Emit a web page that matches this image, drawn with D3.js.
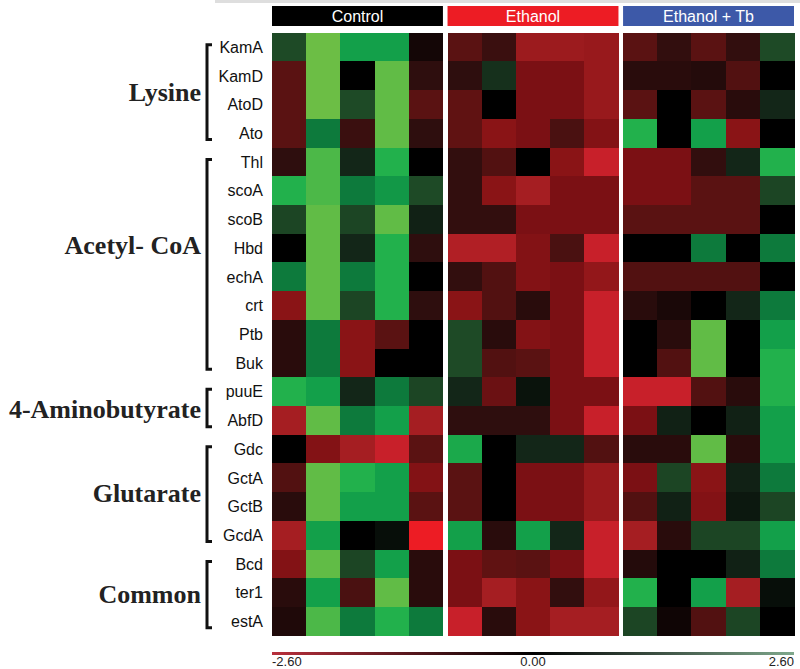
<!DOCTYPE html>
<html>
<head>
<meta charset="utf-8">
<script src="https://cdn.jsdelivr.net/npm/d3@7"></script>
<style>
  body { margin: 0; background: #fff; }
  svg { display: block; }
</style>
</head>
<body>
<svg id="chart" width="800" height="669"></svg>
<script>
// ---- data ----
const genes = ["KamA","KamD","AtoD","Ato","Thl","scoA","scoB","Hbd","echA","crt","Ptb","Buk",
               "puuE","AbfD","Gdc","GctA","GctB","GcdA","Bcd","ter1","estA"];
const pathways = ["Lysine","Acetyl- CoA","4-Aminobutyrate","Glutarate","Common"];
const pathwaySizes = [4, 8, 2, 4, 3];
const treatments = ["Control","Ethanol","Ethanol + Tb"];
const scaleTicks = [-2.6, 0, 2.6];

// one row per gene, 5 replicates each
const controlValues = [
  [0.75, 2.45, 1.9, 1.9, -0.2],
  [-1.0, 2.45, 0, 2.4, -0.45],
  [-1.0, 2.45, 0.75, 2.4, -1.0],
  [-1.0, 1.4, -0.6, 2.4, -0.45],
  [-0.45, 2.3, 0.4, 2.1, 0],
  [2.1, 2.3, 1.4, 1.8, 0.75],
  [0.7, 2.4, 0.7, 2.4, 0.35],
  [0, 2.4, 0.4, 2.1, -0.45],
  [1.4, 2.4, 1.4, 2.1, 0],
  [-1.8, 2.4, 0.7, 2.1, -0.45],
  [-0.4, 1.4, -1.8, -1.0, 0],
  [-0.4, 1.4, -1.8, 0, 0],
  [2.1, 1.9, 0.4, 1.4, 0.7],
  [-2.1, 2.4, 1.4, 1.9, -2.1],
  [0, -1.7, -2.1, -2.4, -1.0],
  [-0.9, 2.4, 2.1, 1.9, -1.7],
  [-0.4, 2.4, 1.9, 1.9, -1.0],
  [-2.1, 1.9, 0, 0.15, -2.6],
  [-1.7, 2.4, 0.7, 1.9, -0.4],
  [-0.4, 1.9, -0.8, 2.4, -0.4],
  [-0.3, 2.3, 1.4, 2.1, 1.4]
];
const ethanolValues = [
  [-1.0, -0.6, -2.0, -2.0, -1.95],
  [-0.45, 0.5, -1.6, -1.6, -1.95],
  [-1.1, 0, -1.6, -1.6, -1.95],
  [-1.1, -1.8, -1.6, -0.8, -1.7],
  [-0.5, -0.9, 0, -1.8, -2.4],
  [-0.5, -1.8, -2.1, -1.6, -1.6],
  [-0.5, -0.5, -1.6, -1.6, -1.6],
  [-2.2, -2.2, -1.7, -0.8, -2.4],
  [-0.5, -0.9, -1.7, -1.6, -1.9],
  [-1.8, -0.9, -0.4, -1.6, -2.4],
  [0.75, -0.4, -1.7, -1.6, -2.4],
  [0.75, -0.9, -1.0, -1.6, -2.4],
  [0.4, -1.3, 0.2, -1.6, -1.6],
  [-0.45, -0.45, -0.45, -1.6, -2.4],
  [2.0, 0, 0.4, 0.4, -0.9],
  [-1.0, 0, -1.6, -1.6, -1.95],
  [-1.0, 0, -1.6, -1.6, -1.95],
  [1.9, -0.4, 1.9, 0.4, -2.4],
  [-1.6, -1.1, -1.0, -1.6, -2.4],
  [-1.6, -2.1, -1.8, -0.5, -1.9],
  [-2.4, -0.4, -1.8, -2.1, -2.1]
];
const ethanolTbValues = [
  [-1.0, -0.5, -1.0, -0.5, 0.75],
  [-0.4, -0.4, -0.35, -0.9, 0],
  [-1.0, 0, -1.0, -0.4, 0.4],
  [2.1, 0, 1.9, -1.8, 0],
  [-1.6, -1.6, -0.5, 0.4, 2.1],
  [-1.6, -1.6, -1.0, -1.0, 0.7],
  [-1.0, -1.0, -1.0, -1.0, 0],
  [0, 0, 1.4, 0, 1.4],
  [-0.9, -0.9, -0.9, -0.9, 0],
  [-0.4, -0.25, 0, 0.4, 1.4],
  [0, -0.4, 2.4, 0, 1.9],
  [0, -0.9, 2.4, 0, 2.1],
  [-2.4, -2.4, -0.9, -0.4, 2.1],
  [-1.6, 0.35, 0, 0.35, 1.9],
  [-0.4, -0.4, 2.4, -0.4, 1.9],
  [-1.6, 0.7, -1.8, 0.35, 1.4],
  [-0.9, 0.35, -1.7, 0.25, 0.7],
  [-2.1, -0.4, 0.7, 0.7, 1.9],
  [-0.35, 0, 0, 0.35, 1.4],
  [2.1, 0, 1.9, -2.1, 0.15],
  [0.7, -0.15, -0.9, 0.7, 0]
];

// ---- styles ----
const headerColors = ["#000000", "#ed1c24", "#3d59a8"];
const colorDomain = [-2.6, -2.4, -2.1, -1.8, -1.6, -1.0, -0.45, 0, 0.4, 0.75, 1.4, 1.9, 2.1, 2.45, 2.6];
const colorRange = ["#ed1c24", "#c8202a", "#a51e22", "#8a1416", "#7b1014", "#5a1212", "#2e0e0e", "#000000",
                    "#132618", "#1e4a26", "#0d7a3c", "#13a04a", "#22b14c", "#6cbe45", "#6cbe45"];
const labelDy = [10.5, -8, 12, 10, 10.5];

const svg = d3.select("#chart");
const mLeft = 272, mRight = 794, mTop = 32.7, mBottom = 635.7;

const groupX = d3.scaleBand().domain(treatments).range([mLeft, mRight]).paddingInner(0.0262);
const repX = d3.scaleBand().domain(d3.range(5)).range([0, groupX.bandwidth()]);
const y = d3.scaleBand().domain(genes).range([mTop, mBottom]);
const color = d3.scaleLinear().domain(colorDomain).range(colorRange)
    .interpolate(d3.interpolateRgb).clamp(true);

// faint top strip
svg.append("rect").attr("x", 215).attr("y", 0).attr("width", 585).attr("height", 3).attr("fill", "#dedede");

// header bars
const head = svg.append("g").selectAll("g").data(treatments).join("g")
    .attr("transform", d => `translate(${groupX(d)},6)`);
head.append("rect")
    .attr("width", groupX.bandwidth()).attr("height", 20)
    .attr("fill", (d, i) => headerColors[i]);
head.append("text")
    .attr("x", groupX.bandwidth() / 2).attr("y", 16)
    .attr("text-anchor", "middle")
    .style("font", "16px 'Liberation Sans', Arial, sans-serif")
    .attr("fill", "#fff")
    .text(d => d);

// cells
const tables = [controlValues, ethanolValues, ethanolTbValues];
const cells = [];
tables.forEach((tbl, t) => {
    tbl.forEach((row, g) => {
        row.forEach((v, r) => cells.push({treat: treatments[t], gene: genes[g], rep: r, value: v}));
    });
});
svg.append("g").attr("shape-rendering", "crispEdges")
    .selectAll("rect").data(cells).join("rect")
    .attr("x", d => groupX(d.treat) + repX(d.rep))
    .attr("y", d => y(d.gene))
    .attr("width", repX.bandwidth() + 0.5)
    .attr("height", y.bandwidth() + 0.5)
    .attr("fill", d => color(d.value));

// gene labels
svg.append("g").selectAll("text").data(genes).join("text")
    .attr("x", 263).attr("y", d => y(d) + y.bandwidth() / 2)
    .attr("dy", "0.36em")
    .attr("text-anchor", "end")
    .style("font", "16px 'Liberation Sans', Arial, sans-serif")
    .attr("fill", "#111")
    .text(d => d);

// pathway brackets + labels
let start = 0;
const groups = pathways.map((p, i) => {
    const g = {name: p, first: genes[start], last: genes[start + pathwaySizes[i] - 1], dy: labelDy[i]};
    start += pathwaySizes[i];
    return g;
});
const bx = 207, tick = 5;
const pg = svg.append("g").selectAll("g").data(groups).join("g");
pg.append("path")
    .attr("fill", "none").attr("stroke", "#111").attr("stroke-width", 3)
    .attr("d", d => {
        const y0 = y(d.first) + 12, y1 = y(d.last) + y.bandwidth() - 8;
        return `M${bx + tick},${y0}H${bx}V${y1}H${bx + tick}`;
    });
pg.append("text")
    .attr("x", 201)
    .attr("y", d => (y(d.first) + y(d.last) + y.bandwidth()) / 2 + d.dy)
    .attr("text-anchor", "end")
    .style("font", "bold 26px 'Liberation Serif', 'Times New Roman', serif")
    .attr("fill", "#222")
    .text(d => d.name);

// colour legend
const lx = d3.scaleLinear().domain([scaleTicks[0], scaleTicks[2]]).range([mLeft, mRight]);
const grad = svg.append("defs").append("linearGradient").attr("id", "lg");
grad.selectAll("stop").data([["0%", "#b8303c"], ["50%", "#000"], ["100%", "#7fa88c"]]).join("stop")
    .attr("offset", d => d[0]).attr("stop-color", d => d[1]);
svg.append("rect").attr("x", lx(scaleTicks[0])).attr("y", 652)
    .attr("width", lx(scaleTicks[2]) - lx(scaleTicks[0])).attr("height", 3)
    .attr("fill", "url(#lg)");
svg.append("g").selectAll("text").data(scaleTicks).join("text")
    .attr("x", d => lx(d)).attr("y", 665.5)
    .attr("text-anchor", (d, i) => ["start", "middle", "end"][i])
    .style("font", "13px 'Liberation Sans', Arial, sans-serif")
    .attr("fill", "#222")
    .text(d => d.toFixed(2));
</script>
</body>
</html>
